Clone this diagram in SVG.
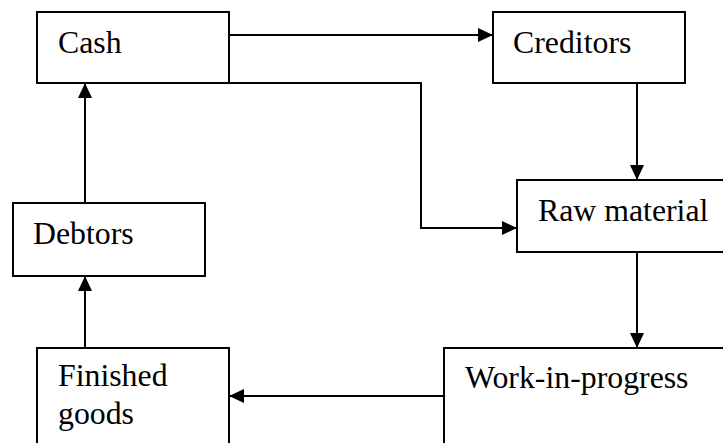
<svg xmlns="http://www.w3.org/2000/svg" width="723" height="443" viewBox="0 0 723 443">
<style>
.box{fill:#fff;stroke:#000;stroke-width:2}
.lbl{font-family:'Liberation Serif','Times New Roman',serif;font-size:31.8px;fill:#000}
.con{fill:none;stroke:#000;stroke-width:2}
</style>
<defs>
<marker id="ah" viewBox="0 0 15 14" refX="15" refY="7" markerWidth="15" markerHeight="14" markerUnits="userSpaceOnUse" orient="auto">
<path d="M0,0 L15,7 L0,14 Z" fill="#000"/>
</marker>
</defs>
<rect width="723" height="443" fill="#fff"/>
<g id="cash"><rect class="box" x="37" y="12" width="192" height="71"/><text class="lbl" x="58" y="53">Cash</text></g>
<g id="creditors"><rect class="box" x="493" y="12" width="192" height="71"/><text class="lbl" x="513" y="53">Creditors</text></g>
<g id="raw-material"><rect class="box" x="517" y="180" width="210" height="72"/><text class="lbl" x="538" y="221">Raw material</text></g>
<g id="debtors"><rect class="box" x="13" y="203" width="192" height="73"/><text class="lbl" x="33" y="244">Debtors</text></g>
<g id="finished-goods"><rect class="box" x="37" y="348" width="192" height="100"/><text class="lbl" x="58" y="386">Finished</text><text class="lbl" x="58" y="424">goods</text></g>
<g id="work-in-progress"><rect class="box" x="444" y="348" width="285" height="100"/><text class="lbl" x="465" y="388">Work-in-progress</text></g>
<g id="connectors">
<line class="con" x1="229" y1="35" x2="493" y2="35" marker-end="url(#ah)"/>
<polyline class="con" points="229,83 421,83 421,228 517,228" marker-end="url(#ah)"/>
<line class="con" x1="637" y1="83" x2="637" y2="180" marker-end="url(#ah)"/>
<line class="con" x1="637" y1="252" x2="637" y2="348" marker-end="url(#ah)"/>
<line class="con" x1="444" y1="396" x2="229" y2="396" marker-end="url(#ah)"/>
<line class="con" x1="85" y1="348" x2="85" y2="276" marker-end="url(#ah)"/>
<line class="con" x1="85" y1="203" x2="85" y2="83" marker-end="url(#ah)"/>
</g>
</svg>
